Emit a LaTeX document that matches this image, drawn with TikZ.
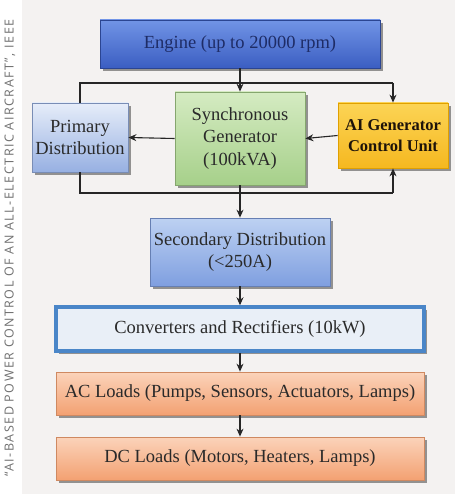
\documentclass[tikz,border=0pt]{standalone}
\usepackage{fontspec}
\setmainfont{Liberation Serif}
\newfontfamily\capfont[LetterSpace=12]{Open Sans}
\usetikzlibrary{shadows,arrows.meta}
\definecolor{panel}{HTML}{F4F2F1}
\definecolor{capgray}{HTML}{707070}
\definecolor{engtop}{HTML}{7194E6}
\definecolor{engbot}{HTML}{3B5EC2}
\definecolor{engdraw}{HTML}{2B4592}
\definecolor{engtext}{HTML}{1E2C66}
\definecolor{pritop}{HTML}{E6EDF9}
\definecolor{pribot}{HTML}{97B0E2}
\definecolor{gentop}{HTML}{D5EBC2}
\definecolor{genbot}{HTML}{A6D08A}
\definecolor{aitop}{HTML}{FCD455}
\definecolor{aibot}{HTML}{F5B820}
\definecolor{aidraw}{HTML}{E0A000}
\definecolor{sectop}{HTML}{BDD1F2}
\definecolor{secbot}{HTML}{7F9FE0}
\definecolor{convfill}{HTML}{E9EFF7}
\definecolor{convdraw}{HTML}{4A86C8}
\definecolor{loadtop}{HTML}{FBD3BA}
\definecolor{loadbot}{HTML}{F3A172}
\definecolor{boxtext}{HTML}{2A2A2A}
\tikzset{
  box/.style={line width=0.8pt, inner sep=0pt, align=center,
    font=\fontsize{18.5}{22.5}\selectfont, text=boxtext,
    drop shadow={shadow xshift=3pt, shadow yshift=-3pt, fill=black, opacity=0.4}},
  arr/.style={-{Stealth[length=8pt,width=7pt]}, line width=1.1pt, draw=black!85},
  ln/.style={line width=1.1pt, draw=black!85}
}
\begin{document}
\begin{tikzpicture}[x=1pt,y=-1pt]
\useasboundingbox (0,0) rectangle (455,500);
\fill[white] (0,0) rectangle (455,500);
\fill[panel] (22,0) rectangle (455,494);
\node[rotate=90, font=\capfont\fontsize{12.5}{13}\selectfont, text=capgray] (cap) at (10,248)
  {“AI-BASED POWER CONTROL OF AN ALL-ELECTRIC AIRCRAFT”, IEEE};

\node[box, draw=engdraw, top color=engtop, bottom color=engbot, text=engtext,
  minimum width=280pt, minimum height=48pt] (eng) at (240,44) {Engine (up to 20000 rpm)};
\node[box, draw=pribot!80!black, top color=pritop, bottom color=pribot,
  minimum width=96pt, minimum height=69pt] (pri) at (80,137.5) {Primary\\Distribution};
\node[box, draw=genbot!80!black, top color=gentop, bottom color=genbot,
  minimum width=130pt, minimum height=93pt] (gen) at (240,138.5) {Synchronous\\Generator\\(100kVA)};
\node[box, draw=aidraw, top color=aitop, bottom color=aibot, text=black!85!brown,
  font=\fontsize{16.5}{21}\selectfont\bfseries,
  minimum width=110pt, minimum height=65pt] (ai) at (393,135.5) {AI Generator\\Control Unit};
\node[box, draw=secbot!80!black, top color=sectop, bottom color=secbot,
  minimum width=180pt, minimum height=68pt] (sec) at (240,252) {Secondary Distribution\\(<250A)};
\node[box, draw=convdraw, fill=convfill, line width=3.5pt, drop shadow={opacity=0},
  minimum width=368pt, minimum height=44pt] (conv) at (240,329) {Converters and Rectifiers (10kW)};
\node[box, draw=loadbot!85!black, top color=loadtop, bottom color=loadbot,
  minimum width=368pt, minimum height=43pt] (ac) at (240,393.5) {AC Loads (Pumps, Sensors, Actuators, Lamps)};
\node[box, draw=loadbot!85!black, top color=loadtop, bottom color=loadbot,
  minimum width=368pt, minimum height=43pt] (dc) at (240,458.5) {DC Loads (Motors, Heaters, Lamps)};

\coordinate (tl) at (80,83);
\coordinate (tr) at (393,83);
\coordinate (bl) at (80,193);
\coordinate (br) at (393,193);

\draw[ln] (pri.north) -- (tl) -- (tr);
\draw[arr] (tr) -- (ai.north);
\draw[arr] (eng.south) -- (gen.north);
\draw[ln] (pri.south) -- (bl) -- (br);
\draw[arr] (br) -- (ai.south);
\draw[arr] (gen.south) -- (sec.north);
\draw[arr] (ai.west) -- (gen.east);
\draw[arr] (gen.west) -- (pri.east);
\draw[arr] (sec.south) -- (conv.north);
\draw[arr] (conv.south) -- (ac.north);
\draw[arr] (ac.south) -- (dc.north);
\end{tikzpicture}
\end{document}
